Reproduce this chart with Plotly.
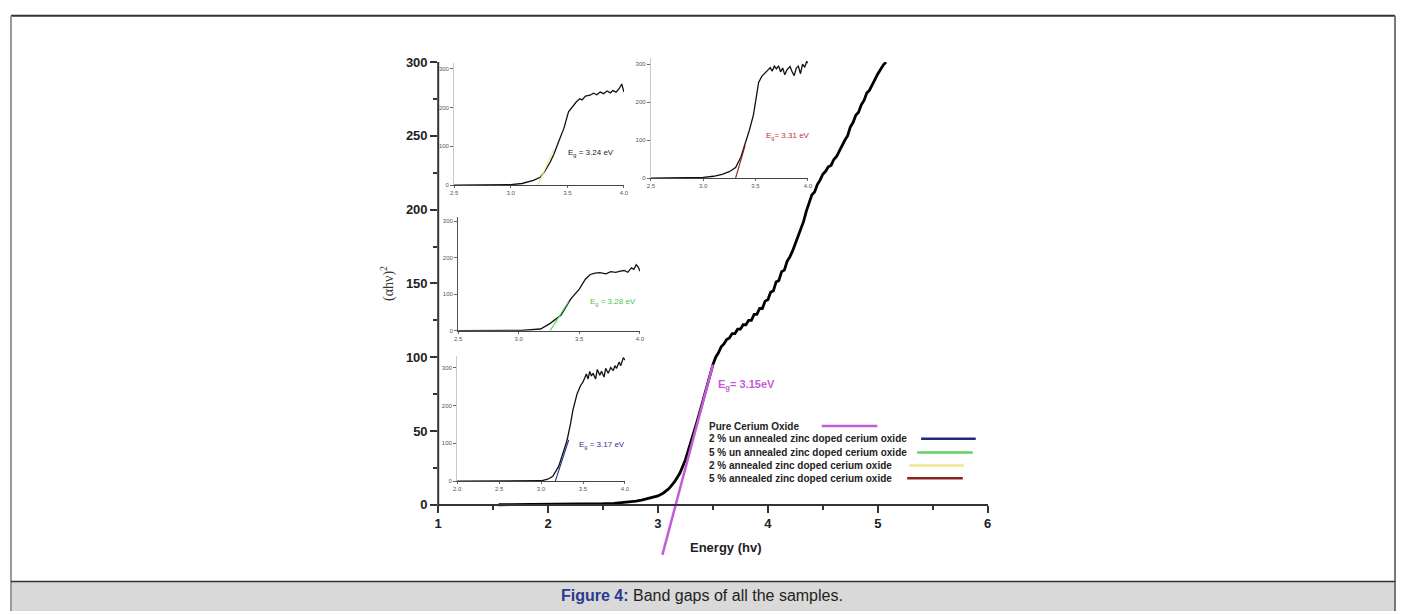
import plotly.graph_objects as go

W, H = 1405, 614
def fx(p): return p / W
def fy(p): return 1 - p / H

# ---------------- data ----------------
# main curve: pure cerium oxide, (alpha h nu)^2 against photon energy
main_energy = [1.55, 1.8, 2.0, 2.2, 2.4, 2.5, 2.6, 2.7, 2.75, 2.8, 2.85, 2.9, 2.95, 3.0, 3.05, 3.1,
               3.15, 3.2, 3.25, 3.3, 3.35, 3.4, 3.45,
               3.500, 3.525, 3.550, 3.575, 3.600, 3.625, 3.650, 3.675, 3.700, 3.725, 3.750, 3.775,
               3.800, 3.825, 3.850, 3.875, 3.900, 3.925, 3.950, 3.975, 4.000, 4.025, 4.050, 4.075,
               4.100, 4.125, 4.150, 4.175, 4.200, 4.225, 4.250, 4.275, 4.300, 4.325, 4.350, 4.375,
               4.400, 4.425, 4.450, 4.475, 4.500, 4.525, 4.550, 4.575, 4.600, 4.625, 4.650, 4.675,
               4.700, 4.725, 4.750, 4.775, 4.800, 4.825, 4.850, 4.875, 4.900, 4.925, 4.950, 4.975,
               5.000, 5.025, 5.050, 5.075]
main_value = [0.0, 0.1, 0.2, 0.3, 0.5, 0.7, 1.0, 1.5, 2.0, 2.5, 3.2, 4.0, 4.8, 6.0, 8.0, 11.0,
              15.5, 21.5, 30.5, 42, 55, 68, 82,
              95, 100, 103, 107, 109, 112, 113, 116, 116, 119, 119, 122,
              122, 125, 125, 129, 129, 133, 133, 138, 139, 144, 145, 151,
              152, 158, 159, 165, 168, 172, 177, 182, 188, 192, 199, 204,
              210, 212, 217, 220, 224, 226, 229, 230, 234, 236, 240, 243,
              247, 250, 256, 259, 264, 266, 271, 274, 279, 281, 285, 288,
              292, 295, 298, 300]

# Tauc extrapolation for pure CeO2 (Eg = 3.15 eV)
pure_fit_energy = [3.04, 3.50]
pure_fit_value = [-34, 95]

# inset A: 2 % annealed (Eg = 3.24 eV)
a_energy = [2.5, 2.8, 3.0, 3.1, 3.2, 3.26, 3.3, 3.35, 3.38, 3.42, 3.47, 3.51, 3.555, 3.58, 3.61, 3.63,
            3.66, 3.7, 3.73, 3.76, 3.79, 3.82, 3.85, 3.88, 3.9, 3.93, 3.96, 3.98, 4.0]
a_value = [0, 0, 1, 4, 12, 20, 35, 60, 79, 110, 147, 189, 206, 215, 223, 220,
           230, 232, 237, 233, 240, 236, 243, 238, 244, 240, 250, 261, 240]
a_fit_energy = [3.24, 3.38]
a_fit_value = [0, 92]

# inset B: 5 % annealed (Eg = 3.31 eV)
b_energy = [2.5, 2.8, 3.0, 3.1, 3.18, 3.25, 3.31, 3.36, 3.40, 3.44, 3.48, 3.53, 3.56, 3.59, 3.62, 3.64,
            3.66, 3.68, 3.70, 3.72, 3.74, 3.76, 3.78, 3.80, 3.83, 3.85, 3.87, 3.89, 3.91, 3.93, 3.95,
            3.97, 3.99, 4.0]
b_value = [0, 0.5, 2, 5, 10, 17, 28, 55, 88, 125, 166, 252, 268, 278, 285, 291,
           282, 295, 288, 296, 280, 290, 272, 285, 294, 280, 270, 290, 295, 275, 300,
           292, 308, 303]
b_fit_energy = [3.31, 3.40]
b_fit_value = [0, 85]

# inset C: 5 % un annealed (Eg = 3.28 eV)
c_energy = [2.5, 2.8, 3.02, 3.18, 3.26, 3.35, 3.43, 3.50, 3.55, 3.59, 3.63, 3.67, 3.72, 3.76, 3.80,
            3.84, 3.87, 3.90, 3.93, 3.95, 3.97, 3.99, 4.0]
c_value = [0, 0, 0.5, 4.5, 20, 43, 87, 114, 141, 154, 158, 159, 156, 162, 160,
           163, 165, 160, 172, 168, 181, 172, 163]
c_fit_energy = [3.26, 3.41]
c_fit_value = [0, 79]

# inset D: 2 % un annealed (Eg = 3.17 eV)
d_energy = [2.0, 2.5, 3.0, 3.08, 3.14, 3.21, 3.27, 3.31, 3.35, 3.38, 3.43, 3.47, 3.50, 3.54, 3.56,
            3.58, 3.60, 3.62, 3.65, 3.67, 3.70, 3.72, 3.75, 3.77, 3.80, 3.83, 3.86, 3.88, 3.90,
            3.93, 3.95, 3.98, 4.0]
d_value = [0, 0, 1, 5, 13, 39, 80, 108, 150, 188, 231, 252, 262, 283, 270,
           290, 278, 285, 270, 295, 280, 290, 275, 298, 285, 300, 292, 305, 298,
           315, 305, 326, 320]
d_fit_energy = [3.17, 3.33]
d_fit_value = [0, 109]

legend_labels = ["Pure Cerium Oxide",
                 "2 % un annealed zinc doped cerium oxide",
                 "5 % un annealed zinc doped cerium oxide",
                 "2 % annealed zinc doped cerium oxide",
                 "5 % annealed zinc doped cerium oxide"]
legend_colors = ["#c45bd9", "#1c2a80", "#5fd35f", "#f2e38a", "#8e1f24"]

main_xticks = [1, 2, 3, 4, 5, 6]
main_yticks = [0, 50, 100, 150, 200, 250, 300]

# ---------------- figure ----------------
fig = go.Figure()
fig.add_trace(go.Scatter(x=main_energy, y=main_value, mode="lines",
                         line=dict(color="#000000", width=2.8), xaxis="x", yaxis="y"))
fig.add_trace(go.Scatter(x=pure_fit_energy, y=pure_fit_value, mode="lines",
                         line=dict(color=legend_colors[0], width=2.5), xaxis="x", yaxis="y"))

insets = [
    ("2", a_energy, a_value, a_fit_energy, a_fit_value, legend_colors[3]),
    ("3", b_energy, b_value, b_fit_energy, b_fit_value, legend_colors[4]),
    ("4", c_energy, c_value, c_fit_energy, c_fit_value, legend_colors[2]),
    ("5", d_energy, d_value, d_fit_energy, d_fit_value, legend_colors[1]),
]
for k, xe, yv, fe, fv, col in insets:
    fig.add_trace(go.Scatter(x=xe, y=yv, mode="lines", line=dict(color="#111", width=1.3),
                             xaxis="x" + k, yaxis="y" + k))
    fig.add_trace(go.Scatter(x=fe, y=fv, mode="lines", line=dict(color=col, width=1.1),
                             xaxis="x" + k, yaxis="y" + k))

tickfont_main = dict(family="Liberation Sans, Arial", size=13, color="#222", weight="bold")

layout = dict(
    width=W, height=H, margin=dict(l=0, r=0, t=0, b=0),
    paper_bgcolor="white", plot_bgcolor="rgba(0,0,0,0)", showlegend=False,
    xaxis=dict(domain=[fx(437), fx(990)], range=[1, 6], anchor="free", position=fy(506),
               showline=True, linecolor="#333", linewidth=2, showgrid=False, zeroline=False,
               tickvals=main_xticks, ticks="outside", ticklen=7, tickwidth=2, tickcolor="#333",
               minor=dict(tickvals=[1.5, 2.5, 3.5, 4.5, 5.5], ticks="outside", ticklen=4,
                          tickwidth=2, tickcolor="#333"),
               tickfont=tickfont_main),
    yaxis=dict(domain=[fy(560), fy(56)], range=[-36, 300], anchor="x",
               showline=False, showgrid=False, zeroline=False,
               tickvals=main_yticks, ticks="outside", ticklen=7, tickwidth=2, tickcolor="#333",
               minor=dict(tickvals=[25, 75, 125, 175, 225, 275], ticks="outside", ticklen=4,
                          tickwidth=2, tickcolor="#333"),
               tickfont=tickfont_main),
)

inset_geom = {
    # key: (x px left, x px right, x range, y px of zero, y px top, y range, x ticks, y-axis line colour)
    "2": (453, 624, [2.5, 4.0], 181, 57, [0, 315], [2.5, 3.0, 3.5, 4.0], "#c8c8c8"),
    "3": (651, 809, [2.5, 4.0], 174, 52, [0, 316], [2.5, 3.0, 3.5, 4.0], "#c8c8c8"),
    "4": (457, 640, [2.5, 4.0], 329, 213, [0, 313], [2.5, 3.0, 3.5, 4.0], "#555"),
    "5": (456, 625, [2.0, 4.0], 482, 355, [0, 330], [2.0, 2.5, 3.0, 3.5, 4.0], "#c8c8c8"),
}
small = dict(family="Liberation Sans, Arial", size=6, color="#555")
for k, (xl, xr, xrng, yb, yt, yrng, xt, ycol) in inset_geom.items():
    layout["xaxis" + k] = dict(domain=[fx(xl), fx(xr)], range=xrng, anchor="y" + k,
                               showline=True, linecolor="#444", linewidth=1, showgrid=False,
                               zeroline=False, tickvals=xt, tickformat=".1f", ticks="outside",
                               ticklen=2, tickcolor="#666", tickfont=small)
    layout["yaxis" + k] = dict(domain=[fy(yb), fy(yt)], range=yrng, anchor="x" + k,
                               showline=True, linecolor=ycol, linewidth=1, showgrid=False,
                               zeroline=False, tickvals=[0, 100, 200, 300], ticks="outside",
                               ticklen=3, tickcolor="#666", tickfont=small)
fig.update_layout(**layout)

shapes = []
# caption band and outer frame
shapes.append(dict(type="rect", xref="paper", yref="paper", x0=fx(7), x1=fx(1400), y0=0, y1=fy(584),
                   fillcolor="#d9d9d9", line=dict(width=0), layer="below"))
shapes.append(dict(type="line", xref="paper", yref="paper", x0=fx(7), x1=fx(1400), y0=fy(9), y1=fy(9),
                   line=dict(color="#333", width=2)))
shapes.append(dict(type="line", xref="paper", yref="paper", x0=fx(7), x1=fx(7), y0=fy(9), y1=0,
                   line=dict(color="#999", width=2)))
shapes.append(dict(type="line", xref="paper", yref="paper", x0=fx(1400), x1=fx(1400), y0=fy(9), y1=0,
                   line=dict(color="#777", width=2)))
shapes.append(dict(type="line", xref="paper", yref="paper", x0=fx(7), x1=fx(1400), y0=fy(584), y1=fy(584),
                   line=dict(color="#333", width=1.5)))
# main y-axis line (from 0 to 300 only)
shapes.append(dict(type="line", xref="paper", yref="paper", x0=fx(437), x1=fx(437), y0=fy(508), y1=fy(56),
                   line=dict(color="#333", width=2)))
# legend keys (drawn to the right of the text, as in the original)
legend_y = [426, 439, 453, 466, 479]
legend_x = [(823, 879), (923, 978), (919, 975), (911, 966), (909, 965)]
for (x0, x1), ly, col in zip(legend_x, legend_y, legend_colors):
    shapes.append(dict(type="line", xref="paper", yref="paper", x0=fx(x0), x1=fx(x1), y0=fy(ly), y1=fy(ly),
                       line=dict(color=col, width=2.5)))
fig.update_layout(shapes=shapes)

def note(text, x, y, font, xanchor="center", yanchor="middle", **kw):
    return dict(text=text, xref="paper", yref="paper", x=fx(x), y=fy(y), xanchor=xanchor,
                yanchor=yanchor, showarrow=False, font=font, **kw)

ann = []
legfont = dict(family="Liberation Sans, Arial", size=10, color="#222", weight="bold")
for lab, ly in zip(legend_labels, legend_y):
    ann.append(note(lab, 708, ly, legfont, xanchor="left"))
ann.append(note("(αhν)<sup>2</sup>", 386, 281,
                dict(family="Liberation Serif, Times New Roman", size=14, color="#333"), textangle=-90))
ann.append(note("Energy (hv)", 727, 549,
                dict(family="Liberation Sans, Arial", size=13, color="#222", weight="bold")))
ann.append(note("E<sub>g</sub>= 3.15eV", 747, 384,
                dict(family="Liberation Sans, Arial", size=11, color="#c45bd9", weight="bold")))
inset_labels = [("E<sub>g</sub> = 3.24 eV", 591, 148, "#222"),
                ("E<sub>g</sub>= 3.31 eV", 789, 131, "#b8343a"),
                ("E<sub>g</sub> = 3.28 eV", 613, 300, "#4cc24c"),
                ("E<sub>g</sub> = 3.17 eV", 602, 445, "#2c3392")]
for t, x, y, c in inset_labels:
    ann.append(note(t, x, y, dict(family="Liberation Sans, Arial", size=8, color=c)))
ann.append(note('<b><span style="color:#2b3990">Figure 4:</span></b> Band gaps of all the samples.', 703, 598,
                dict(family="Liberation Sans Narrow, Arial Narrow, Liberation Sans", size=16, color="#222")))
fig.update_layout(annotations=ann)

fig.write_html("out.html", config={"displayModeBar": False},
               post_script="document.body.style.margin='0';document.body.style.overflow='hidden';")
